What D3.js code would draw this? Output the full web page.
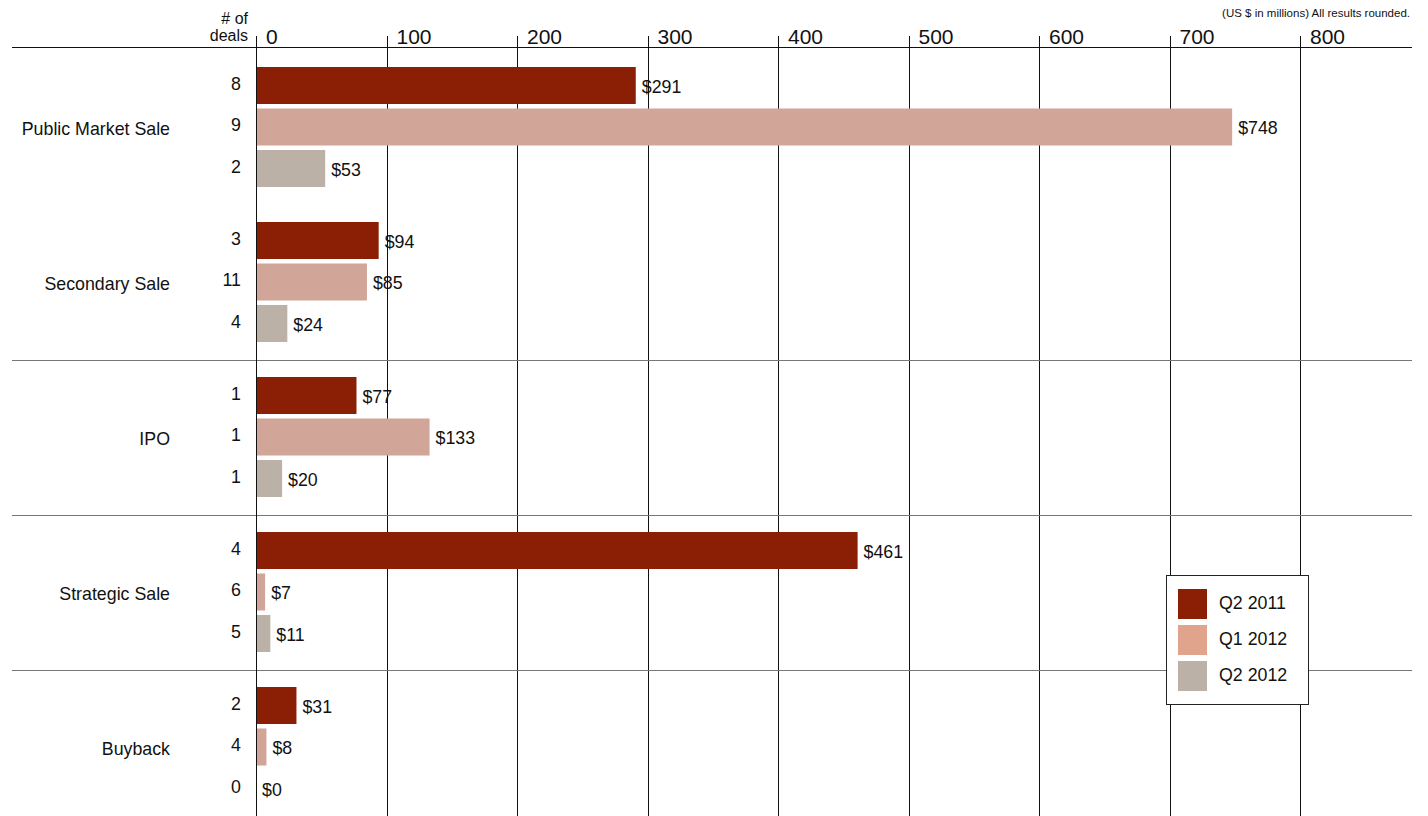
<!DOCTYPE html>
<html><head><meta charset="utf-8">
<script src="https://cdn.jsdelivr.net/npm/d3@7"></script>
<style>
html,body{margin:0;padding:0;background:#fff;}
svg{display:block;font-family:"Liberation Sans",Arial,Helvetica,sans-serif;}
</style></head>
<body><svg id="chart" width="1428" height="816"></svg>
<script>
const categories = ["Public Market Sale","Secondary Sale","IPO","Strategic Sale","Buyback"];
const seriesNames = ["Q2 2011","Q1 2012","Q2 2012"];
const valuesQ2_2011 = [291, 94, 77, 461, 31];
const valuesQ1_2012 = [748, 85, 133, 7, 8];
const valuesQ2_2012 = [53, 24, 20, 11, 0];
const dealsQ2_2011 = [8, 3, 1, 4, 2];
const dealsQ1_2012 = [9, 11, 1, 6, 4];
const dealsQ2_2012 = [2, 4, 1, 5, 0];
const tickValues = [0,100,200,300,400,500,600,700,800];
const barColors = ["#8B1F05","#D2A599","#BCB1A6"];
const legendColors = ["#8B1F05","#E0A48C","#BCB1A6"];

const values = [valuesQ2_2011, valuesQ1_2012, valuesQ2_2012];
const deals = [dealsQ2_2011, dealsQ1_2012, dealsQ2_2012];

const svg = d3.select("#chart");
const x = d3.scaleLinear().domain([0,800]).range([256,1300]);
const y0 = d3.scaleBand().domain(categories).range([50,825]);
const y1 = d3.scaleBand().domain(seriesNames).range([17,137]).paddingInner(0.108).paddingOuter(0);
const FS = 17.8;

// gridlines
svg.append("g").selectAll("line").data(tickValues).join("line")
  .attr("x1",d=>Math.round(x(d))+0.5).attr("x2",d=>Math.round(x(d))+0.5)
  .attr("y1",36).attr("y2",816)
  .attr("stroke","#111").attr("stroke-width",1);

// top axis line
svg.append("line").attr("x1",12).attr("x2",1412).attr("y1",47.5).attr("y2",47.5)
  .attr("stroke","#111").attr("stroke-width",1.2);

// tick labels
svg.append("g").selectAll("text").data(tickValues).join("text")
  .attr("x",d=>x(d)+10).attr("y",44)
  .attr("font-size",21).attr("fill","#111").text(d=>d);

// separators
svg.append("g").selectAll("line").data(categories.slice(2)).join("line")
  .attr("x1",12).attr("x2",1412)
  .attr("y1",d=>Math.round(y0(d))+0.5).attr("y2",d=>Math.round(y0(d))+0.5)
  .attr("stroke","#777").attr("stroke-width",1.2);

// header texts
svg.append("text").attr("x",248).attr("y",24).attr("text-anchor","end")
  .attr("font-size",16).attr("fill","#111").text("# of");
svg.append("text").attr("x",248).attr("y",41).attr("text-anchor","end")
  .attr("font-size",16).attr("fill","#111").text("deals");
svg.append("text").attr("x",1410).attr("y",17).attr("text-anchor","end")
  .attr("font-size",11.5).attr("fill","#111").text("(US $ in millions) All results rounded.");

// groups
const g = svg.append("g").selectAll("g").data(categories).join("g")
  .attr("transform",d=>`translate(0,${y0(d)})`);

g.append("text").attr("x",170).attr("y",y0.bandwidth()/2 + 1).attr("dy","0.35em")
  .attr("text-anchor","end").attr("font-size",FS).attr("fill","#111").text(d=>d);

g.each(function(cat,ci){
  const gg = d3.select(this);
  seriesNames.forEach((s,si)=>{
    const v = values[si][ci];
    const yy = y1(s);
    gg.append("rect").attr("x",x(0)).attr("y",yy)
      .attr("width",x(v)-x(0)).attr("height",y1.bandwidth())
      .attr("fill",barColors[si]);
    gg.append("text").attr("x",x(v)+6).attr("y",yy+y1.bandwidth()/2 + 1).attr("dy","0.35em")
      .attr("font-size",FS).attr("fill","#111").text("$"+v);
    gg.append("text").attr("x",241).attr("y",yy+y1.bandwidth()/2 - 2).attr("dy","0.35em")
      .attr("text-anchor","end").attr("font-size",FS).attr("fill","#111").text(deals[si][ci]);
  });
});

// baseline redraw over bars
svg.append("line").attr("x1",x(0)+0.5).attr("x2",x(0)+0.5).attr("y1",36).attr("y2",816)
  .attr("stroke","#111").attr("stroke-width",1);

// legend
const lg = svg.append("g").attr("transform","translate(1166,575)");
lg.append("rect").attr("x",0.5).attr("y",0.5).attr("width",142).attr("height",129)
  .attr("fill","#fff").attr("stroke","#222").attr("stroke-width",1);
seriesNames.forEach((s,i)=>{
  lg.append("rect").attr("x",12).attr("y",14+i*36).attr("width",29).attr("height",30).attr("fill",legendColors[i]);
  lg.append("text").attr("x",53).attr("y",28+i*36).attr("dy","0.35em")
    .attr("font-size",FS).attr("fill","#111").text(s);
});
</script></body></html>
